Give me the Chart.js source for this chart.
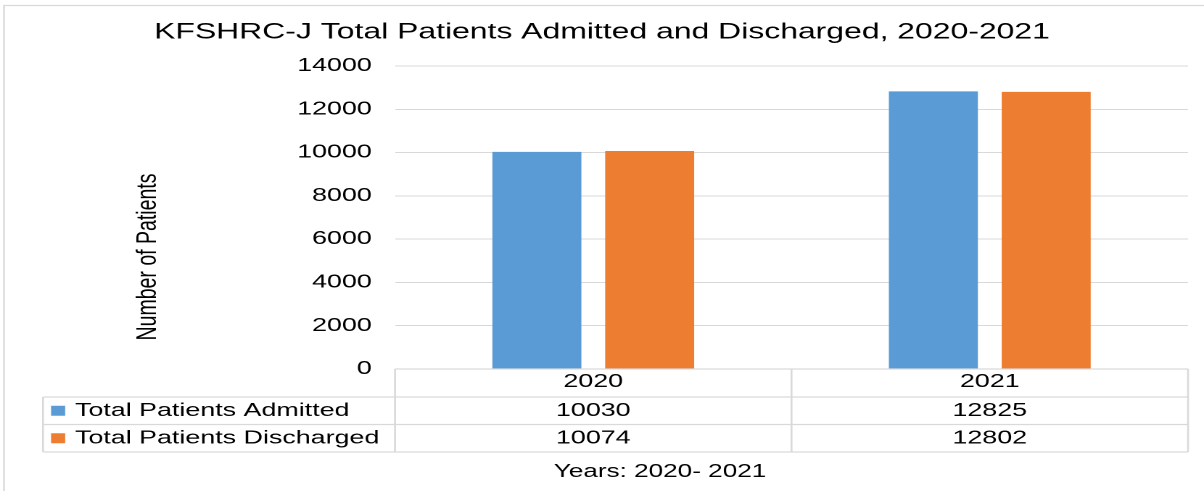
<!DOCTYPE html>
<html>
<head>
<meta charset="utf-8">
<title>KFSHRC-J Total Patients Admitted and Discharged, 2020-2021</title>
<script src="https://cdn.jsdelivr.net/npm/chart.js@4/dist/chart.umd.min.js"></script>
<style>
  html, body { margin: 0; padding: 0; background: #fff; overflow: hidden; }
  /* the original picture is stretched sideways, so the chart is drawn narrow and widened */
  #frame { width: 830px; height: 491px; transform: scaleX(1.4506); transform-origin: 0 0; }
</style>
</head>
<body>
<div id="frame"><canvas id="chart"></canvas></div>
<script>
// data
const years = ['2020', '2021'];
const admitted = [10030, 12825];
const discharged = [10074, 12802];
const seriesNames = ['Total Patients Admitted', 'Total Patients Discharged'];
const seriesColors = ['#5B9BD5', '#ED7D31'];
const yMax = 14000;
const yStep = 2000;

const STRETCH = 1204 / 830;
const FONT = '"Liberation Sans", Arial, sans-serif';
const GRID = '#d9d9d9';
const ROW_H = [28, 27.5, 27.5];

// draws the data table under the plot, the frame and the two axis titles
const dataTable = {
    id: 'dataTable',
    beforeDraw(chart) {
        const ctx = chart.ctx;
        ctx.save();
        ctx.strokeStyle = GRID;
        ctx.lineWidth = 1.2;
        ctx.beginPath();
        ctx.moveTo(4 / STRETCH, chart.height);
        ctx.lineTo(4 / STRETCH, 5.5);
        ctx.lineTo(chart.width, 5.5);
        ctx.stroke();
        ctx.restore();
    },
    afterDraw(chart) {
        const { ctx, chartArea: area, scales: { x, y } } = chart;
        const top = area.bottom;
        const r1 = top + ROW_H[0];
        const r2 = r1 + ROW_H[1];
        const r3 = r2 + ROW_H[2];
        const labelLeft = 43 / STRETCH;
        const mid = (x.getPixelForValue(0) + x.getPixelForValue(1)) / 2;

        ctx.save();
        ctx.strokeStyle = GRID;
        ctx.lineWidth = 1.3;
        ctx.beginPath();
        ctx.moveTo(area.left, top);
        ctx.lineTo(area.right, top);
        [r1, r2, r3].forEach(yy => { ctx.moveTo(labelLeft, yy); ctx.lineTo(area.right, yy); });
        ctx.moveTo(labelLeft, r1);
        ctx.lineTo(labelLeft, r3);
        [area.left, mid, area.right].forEach(xx => { ctx.moveTo(xx, top); ctx.lineTo(xx, r3); });
        ctx.stroke();

        // one row per series: key, name, values
        ctx.font = `18.5px ${FONT}`;
        ctx.textBaseline = 'middle';
        const rowY = [(r1 + r2) / 2, (r2 + r3) / 2];
        chart.data.datasets.forEach((ds, i) => {
            const cy = rowY[i];
            ctx.fillStyle = ds.backgroundColor;
            ctx.fillRect(35.2, cy - 5, 9.7, 10);
            ctx.fillStyle = '#000';
            ctx.textAlign = 'left';
            ctx.fillText(ds.label, 51.7, cy);
            ctx.textAlign = 'center';
            ds.data.forEach((v, j) => ctx.fillText(String(v), x.getPixelForValue(j), cy));
        });

        // axis titles (text kept in the scale options)
        ctx.fillStyle = '#000';
        ctx.textAlign = 'center';
        ctx.font = `18px ${FONT}`;
        ctx.fillText(x.options.title.text, 455, 472);

        ctx.translate(102, (area.top + r3) / 2 - 2);
        ctx.rotate(-Math.PI / 2);
        ctx.font = `19.5px ${FONT}`;
        ctx.fillText(y.options.title.text, 0, 0);
        ctx.restore();
    }
};

const ctx = document.getElementById('chart').getContext('2d');
new Chart(ctx, {
    type: 'bar',
    data: {
        labels: years,
        datasets: [admitted, discharged].map((values, i) => ({
            label: seriesNames[i],
            data: values,
            backgroundColor: seriesColors[i],
            barPercentage: 0.789,
            categoryPercentage: 0.569
        }))
    },
    options: {
        responsive: true,
        maintainAspectRatio: false,
        devicePixelRatio: 2,
        animation: false,
        events: [],
        layout: { padding: { left: 11, right: 11, top: 0, bottom: 0 } },
        plugins: {
            legend: { display: false },
            tooltip: { enabled: false },
            title: {
                display: true,
                text: 'KFSHRC-J Total Patients Admitted and Discharged, 2020-2021',
                color: '#000',
                font: { family: FONT, size: 22, weight: 'normal' },
                padding: { top: 19.3, bottom: 20.3 }
            }
        },
        scales: {
            x: {
                grid: { display: false, drawTicks: false },
                border: { display: false },
                ticks: { padding: 2, color: '#000', font: { family: FONT, size: 18.5 } },
                title: { display: false, text: 'Years: 2020- 2021' },
                afterFit(scale) { scale.height = 122; }
            },
            y: {
                min: 0,
                max: yMax,
                grid: { color: GRID, drawTicks: false },
                border: { display: false },
                ticks: {
                    stepSize: yStep,
                    padding: 16,
                    color: '#000',
                    font: { family: FONT, size: 18.5 },
                    callback: v => String(v)
                },
                title: { display: false, text: 'Number of Patients' },
                afterFit(scale) { scale.width = 272.3 - 11; }
            }
        }
    },
    plugins: [dataTable]
});
</script>
</body>
</html>
